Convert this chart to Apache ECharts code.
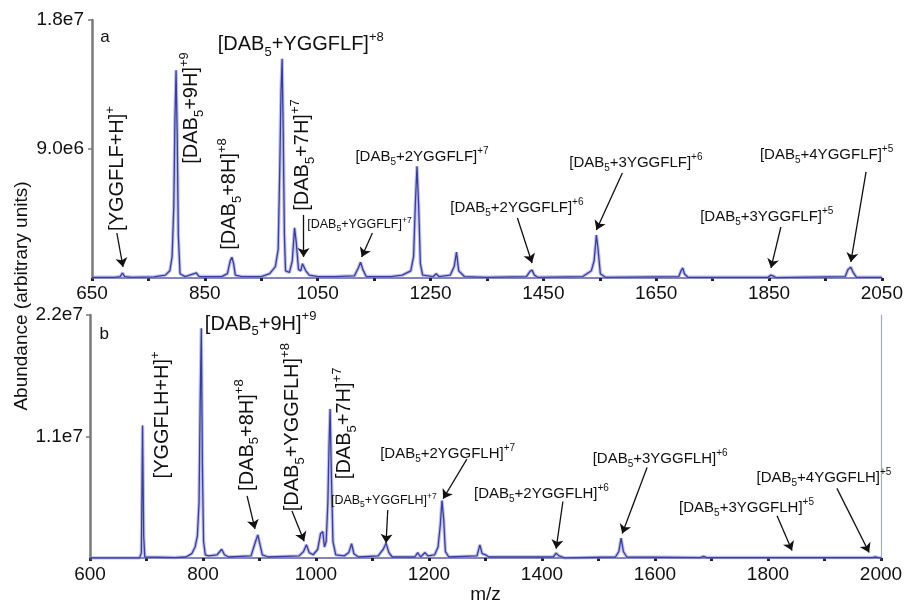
<!DOCTYPE html>
<html><head><meta charset="utf-8">
<script src="https://cdn.jsdelivr.net/npm/echarts@6/dist/echarts.min.js"></script>
<style>html,body{margin:0;padding:0;background:#fff}#c{width:906px;height:605px}</style>
</head><body><div id="c"></div>
<script>
// ---- Panel a spectrum (m/z, abundance) ----
const mzA  = [650,690,700,704,708,720,760,780,788,792,795,797,799,801,803,806,815,835,840,880,890,895,898,901,904,915,950,965,975,980,983,985,987,989,991,993,1000,1005,1009,1012,1016,1020,1023,1026,1029,1035,1050,1080,1115,1122,1126,1130,1136,1180,1200,1215,1220,1223,1226,1229,1232,1236,1255,1260,1265,1285,1292,1296,1300,1310,1350,1420,1426,1430,1434,1440,1520,1535,1540,1544,1547,1551,1560,1690,1694,1697,1700,1706,1848,1853,1857,1862,1985,1990,1995,1999,2005,2050];
const intA = [0.05e6,0.05e6,0.1e6,0.35e6,0.1e6,0.05e6,0.08e6,0.2e6,0.5e6,1.5e6,5.0e6,11.0e6,14.5e6,10.0e6,3.0e6,0.3e6,0.1e6,0.35e6,0.1e6,0.1e6,0.3e6,1.2e6,1.45e6,1.0e6,0.2e6,0.1e6,0.1e6,0.3e6,0.8e6,2.0e6,8.0e6,13.0e6,15.3e6,10.0e6,3.0e6,0.5e6,0.4e6,1.2e6,3.5e6,2.5e6,0.6e6,0.5e6,1.0e6,1.05e6,0.5e6,0.2e6,0.1e6,0.1e6,0.15e6,0.7e6,1.1e6,0.6e6,0.1e6,0.1e6,0.2e6,0.5e6,1.5e6,5.0e6,7.8e6,5.0e6,1.0e6,0.2e6,0.1e6,0.3e6,0.1e6,0.2e6,0.8e6,1.8e6,0.5e6,0.1e6,0.05e6,0.1e6,0.45e6,0.55e6,0.2e6,0.05e6,0.1e6,0.5e6,1.2e6,3.0e6,2.0e6,0.3e6,0.05e6,0.1e6,0.5e6,0.7e6,0.3e6,0.05e6,0.05e6,0.2e6,0.15e6,0.03e6,0.1e6,0.6e6,0.75e6,0.4e6,0.05e6,0.05e6];

// ---- Panel b spectrum (m/z, abundance) ----
const mzB  = [600,688,691,693,695,697,700,750,770,780,786,790,793,795,797,799,801,804,810,825,833,838,845,885,893,897,901,905,915,970,978,983,988,995,1003,1008,1012,1015,1018,1021,1023,1025,1027,1030,1035,1050,1058,1063,1067,1075,1110,1119,1124,1129,1135,1175,1180,1185,1193,1198,1210,1216,1220,1223,1226,1229,1235,1285,1290,1294,1300,1306,1420,1425,1430,1440,1530,1536,1540,1544,1550,1680,1686,1692,1985,1990,1995,2000];
const intB = [0.02e6,0.02e6,0.5e6,12.0e6,2.0e6,0.1e6,0.05e6,0.05e6,0.1e6,0.4e6,1.0e6,2.0e6,5.0e6,14.0e6,20.8e6,8.0e6,1.5e6,0.3e6,0.2e6,0.3e6,0.8e6,0.3e6,0.1e6,0.2e6,1.5e6,2.1e6,1.2e6,0.3e6,0.1e6,0.2e6,0.6e6,1.2e6,0.5e6,0.3e6,0.8e6,2.2e6,2.4e6,1.0e6,1.5e6,5.0e6,10.0e6,13.5e6,8.0e6,1.5e6,0.3e6,0.2e6,0.5e6,1.3e6,0.4e6,0.1e6,0.2e6,0.8e6,1.35e6,0.5e6,0.1e6,0.1e6,0.5e6,0.1e6,0.5e6,0.2e6,0.3e6,1.0e6,3.0e6,5.2e6,3.5e6,0.6e6,0.1e6,0.2e6,1.2e6,0.4e6,0.3e6,0.1e6,0.1e6,0.45e6,0.2e6,0.02e6,0.1e6,0.6e6,1.8e6,0.6e6,0.1e6,0.05e6,0.15e6,0.05e6,0.05e6,0.1e6,0.05e6,0.02e6];

// ---- Tick values / labels ----
const xLabelsA = [650,850,1050,1250,1450,1650,1850,2050];
const xTicksA  = [650,750,850,950,1050,1150,1250,1350,1450,1550,1650,1750,1850,1950,2050];
const xLabelsB = [600,800,1000,1200,1400,1600,1800,2000];
const xTicksB  = [600,700,800,900,1000,1100,1200,1300,1400,1500,1600,1700,1800,1900,2000];
const yValuesA = [9.0e6, 1.8e7];
const yTextA   = ['9.0e6', '1.8e7'];
const yValuesB = [1.1e7, 2.2e7];
const yTextB   = ['1.1e7', '2.2e7'];

// ---- Annotation texts: [prefix, subscript, rest, superscript] ----
const labelsA = [
  ['[YGGFLF+H]', '', '', '+'],
  ['[DAB', '5', '+9H]', '+9'],
  ['[DAB', '5', '+8H]', '+8'],
  ['[DAB', '5', '+YGGFLF]', '+8'],
  ['[DAB', '5', '+7H]', '+7'],
  ['[DAB', '5', '+YGGFLF]', '+7'],
  ['[DAB', '5', '+2YGGFLF]', '+7'],
  ['[DAB', '5', '+2YGGFLF]', '+6'],
  ['[DAB', '5', '+3YGGFLF]', '+6'],
  ['[DAB', '5', '+3YGGFLF]', '+5'],
  ['[DAB', '5', '+4YGGFLF]', '+5']
];
const labelsB = [
  ['[YGGFLH+H]', '', '', '+'],
  ['[DAB', '5', '+9H]', '+9'],
  ['[DAB', '5', '+8H]', '+8'],
  ['[DAB', '5', '+YGGFLH]', '+8'],
  ['[DAB', '5', '+7H]', '+7'],
  ['[DAB', '5', '+YGGFLH]', '+7'],
  ['[DAB', '5', '+2YGGFLH]', '+7'],
  ['[DAB', '5', '+2YGGFLH]', '+6'],
  ['[DAB', '5', '+3YGGFLH]', '+6'],
  ['[DAB', '5', '+3YGGFLH]', '+5'],
  ['[DAB', '5', '+4YGGFLH]', '+5']
];
// label anchor (m/z, abundance), size class, rotation
const anchorsA = [[696,7.64e6],[827,11.86e6],[894,5.86e6],[1020,16.26e6],[1023.5,8.58e6],[1124,3.70e6],[1235,8.44e6],[1403,4.88e6],[1614,8.02e6],[1846,4.26e6],[1952,8.58e6]];
const sizesA   = ['L','L','L','L','L','S','M','M','M','M','M'];
const rotA     = [90,90,90,0,90,0,0,0,0,0,0];
const anchorsB = [[729,12.96e6],[902,21.15e6],[878,11.13e6],[959,11.85e6],[1051,12.19e6],[1120,5.20e6],[1233,9.47e6],[1399,5.80e6],[1609,8.95e6],[1762,4.52e6],[1899,7.25e6]];
const sizesB   = ['L','L','L','L','L','S','M','M','M','M','M'];
const rotB     = [90,0,90,90,90,0,0,0,0,0,0];
// arrows: [from m/z, from abundance, to m/z, to abundance]
const arrowsA = [[694,3.14e6,705,0.77e6],[1025,4.40e6,1025,1.47e6],[1147,3.14e6,1128,1.47e6],[1404,4.19e6,1430,1.05e6],[1590,7.33e6,1544,3.35e6],[1871,3.56e6,1853.5,0.70e6],[2022,7.40e6,1995,1.12e6]];
const arrowsB = [[878,5.63e6,892,2.64e6],[957.5,4.26e6,979,1.53e6],[1127,4.35e6,1124,1.36e6],[1267,8.95e6,1225,5.37e6],[1437,5.12e6,1425,0.85e6],[1586,8.19e6,1542,2.22e6],[1816,3.84e6,1842.5,0.68e6],[1922,6.31e6,1979,0.51e6]];

const FONT = '"Liberation Sans", Arial, Helvetica, sans-serif';
const richStyles = {
  L:  {fontSize:20, lineHeight:28, fontFamily:FONT, color:'#111'},
  Ls: {fontSize:13, lineHeight:13, verticalAlign:'bottom', fontFamily:FONT, color:'#111'},
  Lp: {fontSize:13, lineHeight:13, verticalAlign:'top', fontFamily:FONT, color:'#111'},
  M:  {fontSize:15, lineHeight:21, fontFamily:FONT, color:'#111'},
  Ms: {fontSize:10, lineHeight:10, verticalAlign:'bottom', fontFamily:FONT, color:'#111'},
  Mp: {fontSize:10, lineHeight:10, verticalAlign:'top', fontFamily:FONT, color:'#111'},
  S:  {fontSize:12.5, lineHeight:17, fontFamily:FONT, color:'#111'},
  Ss: {fontSize:8.5, lineHeight:8, verticalAlign:'bottom', fontFamily:FONT, color:'#111'},
  Sp: {fontSize:8.5, lineHeight:8, verticalAlign:'top', fontFamily:FONT, color:'#111'},
  P:  {fontSize:17, fontFamily:FONT, color:'#111'}
};
function fmt(parts, sz) {
  let s = '{' + sz + '|' + parts[0] + '}';
  if (parts[1]) s += '{' + sz + 's|' + parts[1] + '}';
  if (parts[2]) s += '{' + sz + '|' + parts[2] + '}';
  if (parts[3]) s += '{' + sz + 'p|' + parts[3] + '}';
  return s;
}
function markPts(labels, anchors, sizes, rots, letter, letterPos) {
  const d = labels.map((p, i) => ({
    coord: anchors[i], symbol: 'circle', symbolSize: 0,
    label: {formatter: () => fmt(p, sizes[i]), rotate: rots[i]}
  }));
  d.push({coord: letterPos, symbol:'circle', symbolSize:0, label:{formatter: () => '{P|' + letter + '}'}});
  return {
    silent: true, animation: false,
    itemStyle: {color: 'rgba(0,0,0,0)'},
    label: {show: true, position: 'inside', color: '#111', rich: richStyles},
    data: d
  };
}
function markArrows(arr) {
  return {
    silent: true, animation: false,
    symbol: ['none', 'arrow'], symbolSize: 9,
    lineStyle: {color: '#111', width: 1.3, type: 'solid'},
    itemStyle: {color: '#111'},
    label: {show: false},
    data: arr.map(a => [{coord: [a[0], a[1]]}, {coord: [a[2], a[3]]}])
  };
}
const zip = (x, y) => x.map((v, i) => [v, y[i]]);
const dataA = zip(mzA, intA);
const dataB = zip(mzB, intB);

const xAxisBase = (gi, mn, mx, labels, ticks, margin) => ({
  type: 'value', gridIndex: gi, min: mn, max: mx,
  axisLine: {show: true, onZero: false, lineStyle: {color: '#8486b8', width: 2}},
  axisTick: {show: true, customValues: ticks, length: 3, lineStyle: {color: '#222', width: 3}},
  axisLabel: {customValues: labels, formatter: v => String(v), margin: margin, fontSize: 19, color: '#111', fontFamily: FONT},
  splitLine: {show: false}
});
const yAxisBase = (gi, mx, vals, texts, margin) => ({
  type: 'value', gridIndex: gi, min: 0, max: mx,
  axisLine: {show: true, lineStyle: {color: '#7a7a7a', width: 2.5}},
  axisTick: {show: true, customValues: vals, length: 4, lineStyle: {color: '#7a7a7a', width: 1.5}},
  axisLabel: {customValues: vals, formatter: v => texts[vals.indexOf(v)], margin: margin, fontSize: 19, color: '#111', fontFamily: FONT},
  splitLine: {show: false}
});

const lightStyle = {color: 'rgba(140,144,212,0.55)', width: 3.5};
const darkStyle  = {color: '#3a3ca3', width: 1.3};

const chart = echarts.init(document.getElementById('c'), null, {renderer: 'canvas'});
chart.setOption({
  animation: false,
  backgroundColor: '#fff',
  grid: [
    {left: 92, top: 20, width: 792, height: 258},
    {left: 90, top: 315, width: 791, height: 258}
  ],
  xAxis: [
    xAxisBase(0, 650, 2050, xLabelsA, xTicksA, 6),
    Object.assign(xAxisBase(1, 600, 2000, xLabelsB, xTicksB, 7),
      {name: 'm/z', nameLocation: 'middle', nameGap: 14,
       nameTextStyle: {fontSize: 19, color: '#111', fontFamily: FONT}})
  ],
  yAxis: [
    yAxisBase(0, 1.8e7, yValuesA, yTextA, 8),
    yAxisBase(1, 2.2e7, yValuesB, yTextB, 7),
    {type: 'value', gridIndex: 1, position: 'right', min: 0, max: 2.2e7,
     axisLine: {show: true, lineStyle: {color: '#a4a6d0', width: 1.2}},
     axisTick: {show: false}, axisLabel: {show: false}, splitLine: {show: false}}
  ],
  graphic: [{
    type: 'text', x: 22, y: 296, rotation: Math.PI / 2,
    style: {text: 'Abundance (arbitrary units)', font: '19px ' + FONT, fill: '#111',
            textAlign: 'center', textVerticalAlign: 'middle'}
  }],
  series: [
    {type: 'line', xAxisIndex: 0, yAxisIndex: 0, data: dataA, showSymbol: false, silent: true,
     lineStyle: lightStyle, z: 2},
    {type: 'line', xAxisIndex: 0, yAxisIndex: 0, data: dataA, showSymbol: false, silent: true,
     lineStyle: darkStyle, z: 3,
     markPoint: markPts(labelsA, anchorsA, sizesA, rotA, 'a', [673, 16.8e6]),
     markLine: markArrows(arrowsA)},
    {type: 'line', xAxisIndex: 1, yAxisIndex: 1, data: dataB, showSymbol: false, silent: true,
     lineStyle: lightStyle, z: 2},
    {type: 'line', xAxisIndex: 1, yAxisIndex: 1, data: dataB, showSymbol: false, silent: true,
     lineStyle: darkStyle, z: 3,
     markPoint: markPts(labelsB, anchorsB, sizesB, rotB, 'b', [625, 20.29e6]),
     markLine: markArrows(arrowsB)}
  ]
});
</script>
</body></html>
